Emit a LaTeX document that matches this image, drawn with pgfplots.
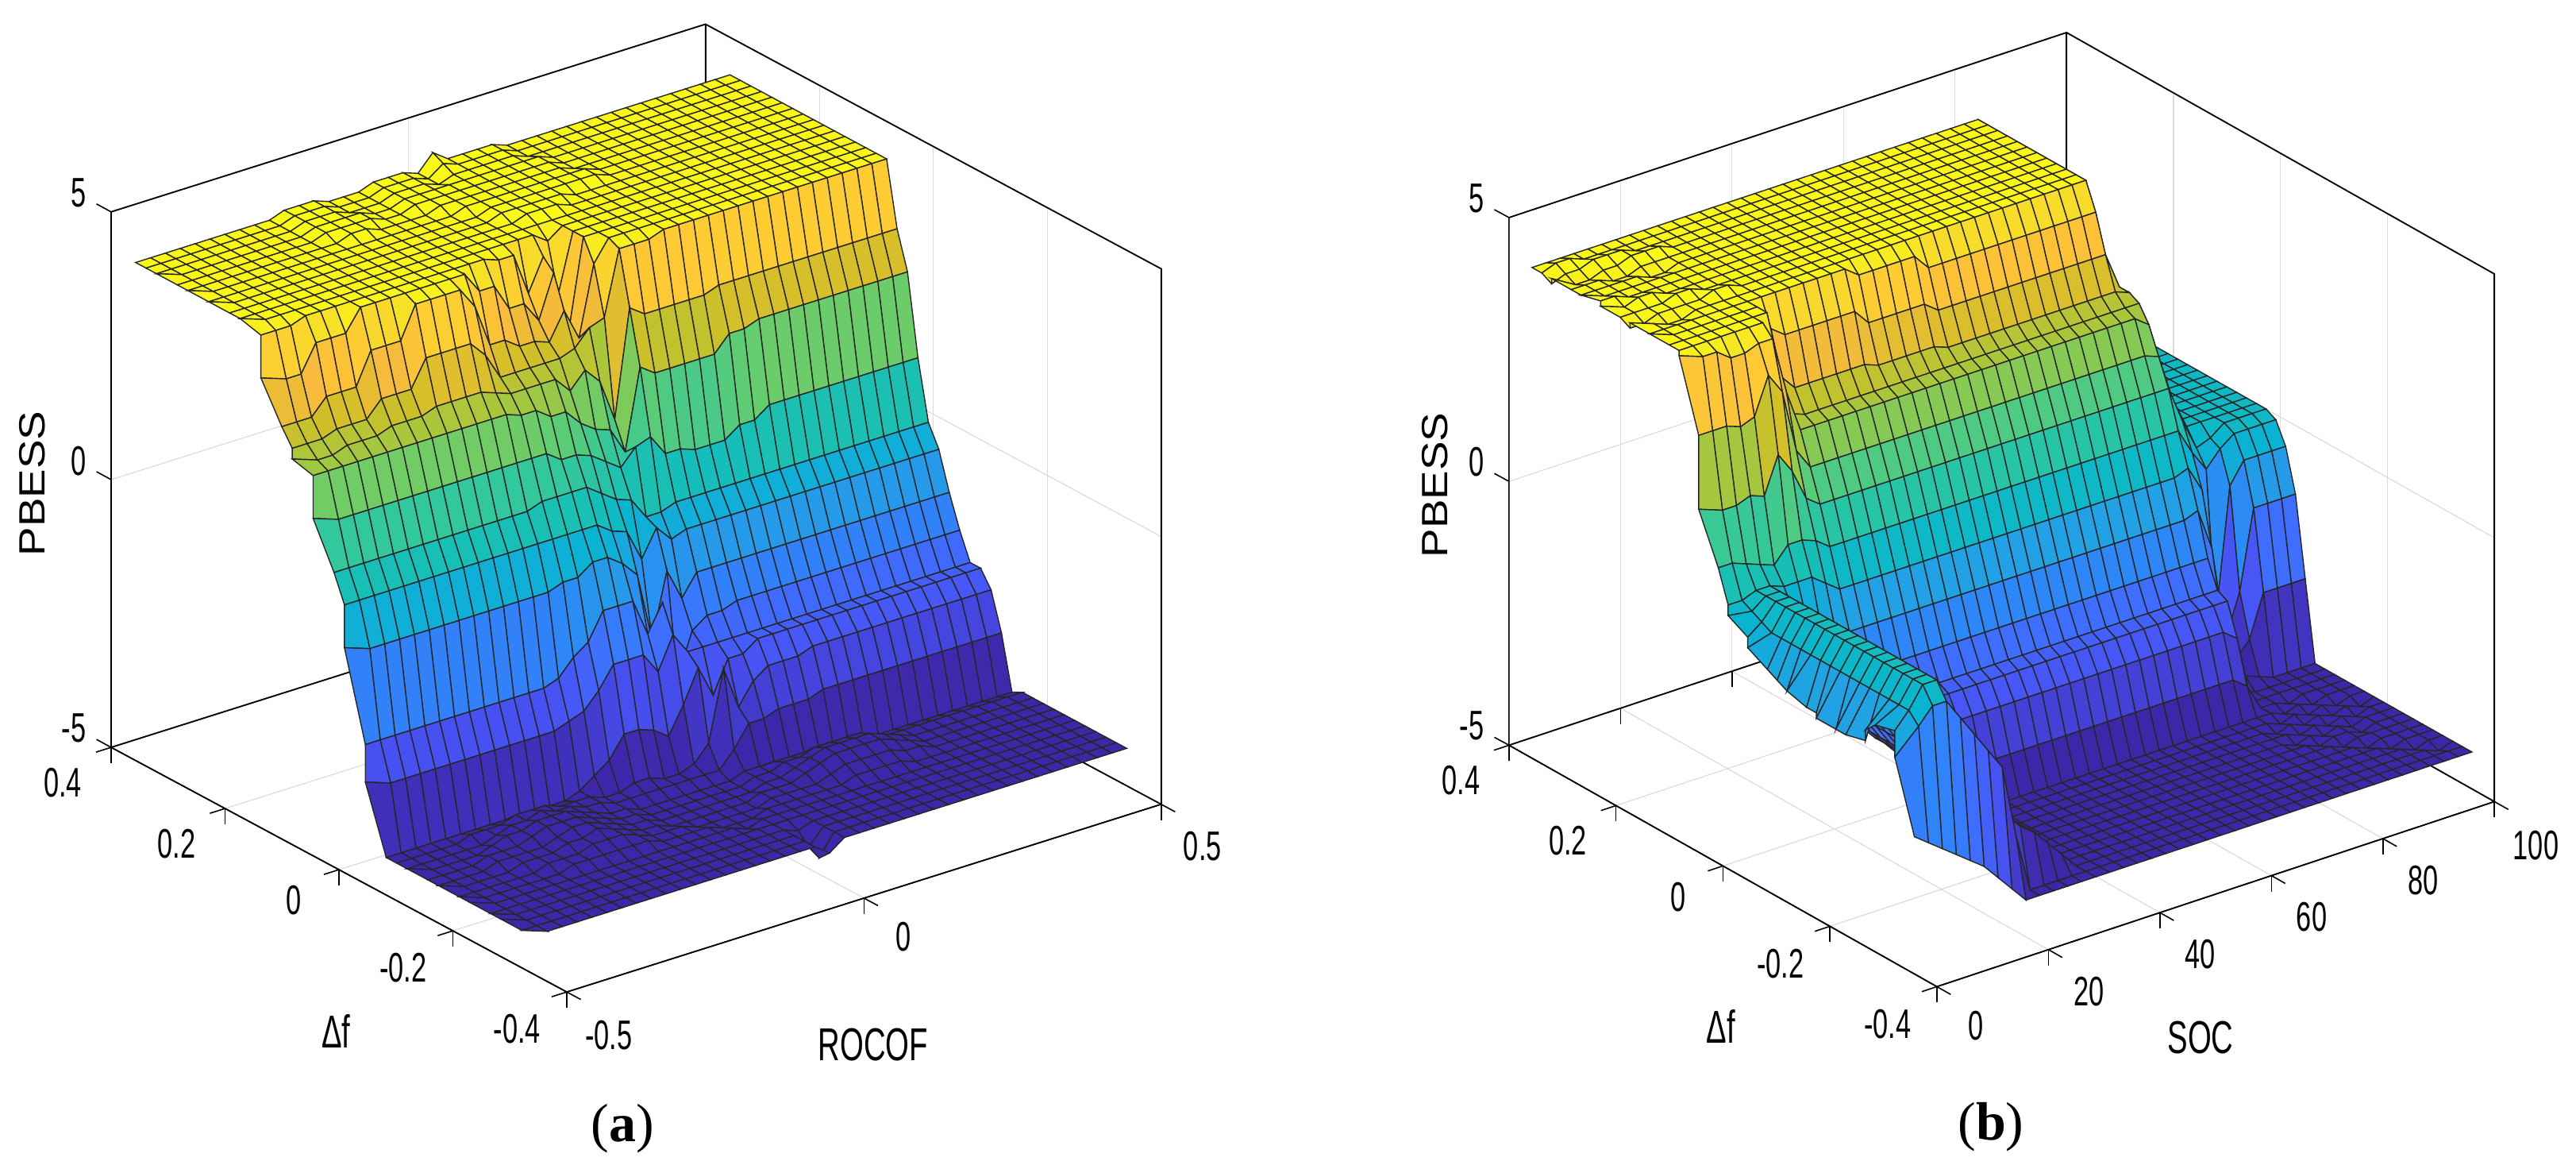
\documentclass[border=0pt]{standalone}
\usepackage{fontspec}
\usepackage{pgfplots}
\usepackage{pgfplotstable}
\pgfplotsset{compat=1.18}
\setmainfont{Liberation Sans}
\newfontfamily\lab[FakeStretch=0.66]{Liberation Sans}
\newfontfamily\capt{Liberation Serif}
\pgfplotsset{colormap={parshift}{
rgb(0pt)=(.2422,.1504,.6603) rgb(46pt)=(.2422,.1504,.6603) rgb(189pt)=(.2810,.3228,.9579)
rgb(268pt)=(.2440,.4358,.9988) rgb(332pt)=(.1786,.5289,.9682) rgb(411pt)=(.1380,.6276,.8973)
rgb(475pt)=(.0297,.7082,.8163) rgb(530pt)=(.0964,.7500,.7120) rgb(617pt)=(.2161,.7843,.5923)
rgb(681pt)=(.3909,.8029,.4354) rgb(744pt)=(.6174,.7876,.2612) rgb(806pt)=(.8203,.7498,.1535)
rgb(871pt)=(.9728,.7298,.2394) rgb(919pt)=(.9952,.7893,.2028) rgb(966pt)=(.9676,.8639,.1643)
rgb(1000pt)=(.9769,.9839,.0805)}}
\pgfplotsset{panel/.style={
 colormap name=parshift, point meta min=-4.35, point meta max=4.35,
 grid=major, grid style={black!14,line width=0.3pt},
 axis line style={line width=0.4pt,black}, tick style={black,line width=0.4pt},
 major tick length=5pt, tick align=outside, tick pos=left,
 ztick style={draw=none},
 tick label style={font=\lab\fontsize{13}{13}\selectfont},
 xticklabel style={xshift=3pt,yshift=-1.5pt},
 yticklabel style={xshift=-3.5pt},
 zticklabel style={yshift=3pt},
 /pgf/number format/assume math mode=true,
 zmin=-5,zmax=5,ztick={-5,0,5},ymin=-0.4,ymax=0.4,ytick={-0.4,-0.2,0,0.2,0.4},
 yticklabels={-0.4,-0.2,0,0.2,0.4}, zticklabels={-5,0,5},
 clip=false}}
\pgfplotstableread[row sep=\\]{
z\\
4.3\\4.3\\4.3\\ 4.3\\4.3\\4.3\\ 4.3\\4.3\\4.3\\ 4.3\\4.4\\4.4\\4.4\\ 4.3\\ 4.3\\4.3\\ 4.4\\4.4\\ 4.4\\ 4.3\\ 4.6\\ 4.4\\ 4.4\\ 4.4\\4.4\\ 4.3\\4.3\\4.3\\ 4.3\\4.3\\ 4.3\\4.3\\4.3\\4.3\\4.3\\4.3\\4.3\\4.3\\4.3\\4.3\\4.3\\
4.3\\4.3\\4.3\\ 4.3\\4.3\\4.3\\ 4.3\\4.3\\4.3\\ 4.3\\4.4\\4.4\\4.4\\ 4.3\\ 4.3\\4.3\\ 4.4\\4.4\\ 4.4\\ 4.3\\ 4.5\\ 4.4\\ 4.4\\ 4.4\\4.4\\ 4.3\\4.3\\4.3\\ 4.3\\4.3\\ 4.3\\4.3\\4.3\\4.3\\4.3\\4.3\\4.3\\4.3\\4.3\\4.3\\4.3\\
4.3\\4.3\\4.3\\ 4.3\\4.3\\4.3\\ 4.3\\4.3\\4.3\\ 4.3\\4.4\\4.4\\4.4\\ 4.3\\ 4.3\\4.3\\ 4.4\\4.4\\ 4.4\\ 4.3\\ 4.4\\ 4.4\\ 4.4\\ 4.4\\4.4\\ 4.3\\4.3\\4.3\\ 4.3\\4.3\\ 4.3\\4.3\\4.3\\4.3\\4.3\\4.3\\4.3\\4.3\\4.3\\4.3\\4.3\\
4.3\\4.3\\4.3\\ 4.3\\4.3\\4.3\\ 4.3\\4.3\\4.3\\ 4.3\\4.4\\4.4\\4.4\\ 4.4\\ 4.3\\4.3\\ 4.4\\4.4\\ 4.4\\ 4.4\\ 4.4\\ 4.4\\ 4.4\\ 4.4\\4.4\\ 4.4\\4.3\\4.3\\ 4.3\\4.3\\ 4.3\\4.3\\4.3\\4.3\\4.3\\4.3\\4.3\\4.3\\4.3\\4.3\\4.3\\
4.3\\4.3\\4.3\\ 4.3\\4.3\\4.3\\ 4.3\\4.3\\4.3\\ 4.3\\4.4\\4.4\\4.4\\ 4.4\\ 4.3\\4.3\\ 4.4\\4.4\\ 4.4\\ 4.4\\ 4.4\\ 4.4\\ 4.4\\ 4.4\\4.4\\ 4.4\\4.3\\4.3\\ 4.3\\4.3\\ 4.3\\4.3\\4.3\\4.3\\4.3\\4.3\\4.3\\4.3\\4.3\\4.3\\4.3\\
4.3\\4.3\\4.3\\ 4.3\\4.3\\4.3\\ 4.3\\4.3\\4.3\\ 4.3\\4.3\\4.4\\4.4\\ 4.3\\ 4.3\\4.3\\ 4.3\\4.4\\ 4.4\\ 4.4\\ 4.4\\ 4.4\\ 4.4\\ 4.4\\4.4\\ 4.4\\4.3\\4.3\\ 4.3\\4.3\\ 4.3\\4.3\\4.3\\4.3\\4.3\\4.3\\4.3\\4.3\\4.3\\4.3\\4.3\\
4.3\\4.3\\4.3\\ 4.3\\4.3\\4.3\\ 4.3\\4.3\\4.3\\ 4.3\\4.3\\4.3\\4.3\\ 4.3\\ 4.3\\4.3\\ 4.3\\4.3\\ 4.4\\ 4.4\\ 4.4\\ 4.4\\ 4.4\\ 4.4\\4.4\\ 4.4\\4.4\\4.3\\ 4.3\\4.3\\ 4.3\\4.3\\4.3\\4.3\\4.3\\4.3\\4.3\\4.3\\4.3\\4.3\\4.3\\
4.3\\4.3\\4.3\\ 4.3\\4.3\\4.3\\ 4.3\\4.3\\4.3\\ 4.3\\4.3\\4.3\\4.3\\ 4.3\\ 4.3\\4.3\\ 4.3\\4.3\\ 4.3\\ 4.4\\ 4.4\\ 4.4\\ 4.4\\ 4.4\\4.4\\ 4.4\\4.4\\4.3\\ 4.3\\4.3\\ 4.3\\4.3\\4.3\\4.3\\4.3\\4.3\\4.3\\4.3\\4.3\\4.3\\4.3\\
4.3\\4.3\\4.3\\ 4.3\\4.3\\4.3\\ 4.3\\4.3\\4.3\\ 4.3\\4.3\\4.3\\4.3\\ 4.3\\ 4.3\\4.3\\ 4.3\\4.3\\ 4.3\\ 4.4\\ 4.4\\ 4.4\\ 4.4\\ 4.4\\4.3\\ 4.3\\4.3\\4.3\\ 4.3\\4.3\\ 4.3\\4.3\\4.3\\4.3\\4.3\\4.3\\4.3\\4.3\\4.3\\4.3\\4.3\\
4.3\\4.3\\4.3\\ 4.3\\4.3\\4.3\\ 4.3\\4.3\\4.3\\ 4.3\\4.3\\4.3\\4.3\\ 4.3\\ 4.3\\4.3\\ 4.3\\4.3\\ 4.3\\ 4.3\\ 4.4\\ 4.4\\ 4.4\\ 4.3\\4.3\\ 4.3\\4.3\\4.3\\ 4.3\\4.3\\ 4.3\\4.3\\4.3\\4.3\\4.3\\4.3\\4.3\\4.3\\4.3\\4.3\\4.3\\
4.3\\4.3\\4.3\\ 4.3\\4.3\\4.3\\ 4.3\\4.3\\4.3\\ 4.3\\4.3\\4.3\\4.3\\ 4.3\\ 4.3\\4.3\\ 4.3\\4.3\\ 4.3\\ 4.3\\ 4.3\\ 4.3\\ 4.3\\ 4.3\\4.3\\ 4.3\\4.3\\4.3\\ 4.3\\4.3\\ 4.3\\4.3\\4.3\\4.3\\4.3\\4.3\\4.3\\4.3\\4.3\\4.3\\4.3\\
4.3\\4.3\\4.3\\ 4.3\\4.3\\4.3\\ 4.3\\4.3\\4.3\\ 4.3\\4.3\\4.3\\4.3\\ 4.3\\ 4.3\\4.3\\ 4.3\\4.3\\ 4.3\\ 4.3\\ 4.1\\ 4.3\\ 4.3\\ 4.3\\4.3\\ 4.3\\4.3\\4.3\\ 4.3\\4.3\\ 4.3\\4.3\\4.3\\4.3\\4.3\\4.3\\4.3\\4.3\\4.3\\4.3\\4.3\\
4.2\\4.2\\4.2\\ 4.3\\4.3\\4.3\\ 4.3\\4.3\\4.3\\ 4.3\\4.3\\4.3\\4.3\\ 4.3\\ 4.3\\4.3\\ 4.2\\4.2\\ 3.4\\ 4.0\\ 3.2\\ 4.3\\ 4.3\\ 4.3\\4.3\\ 4.3\\4.3\\4.3\\ 4.3\\4.3\\ 4.3\\4.3\\4.3\\4.3\\4.3\\4.3\\4.3\\4.3\\4.3\\4.3\\4.3\\
3.4\\3.4\\3.4\\ 3.9\\3.9\\3.9\\ 4.3\\4.3\\4.3\\ 4.3\\4.3\\4.3\\4.3\\ 4.3\\ 3.9\\3.9\\ 3.4\\3.4\\ 3.0\\ 3.8\\ 2.6\\ 4.3\\ 4.3\\ 4.3\\4.3\\ 4.3\\4.3\\4.3\\ 4.3\\4.3\\ 4.3\\4.3\\4.3\\4.3\\4.3\\4.3\\4.3\\4.3\\4.3\\4.3\\4.3\\
2.7\\2.7\\2.7\\ 3.0\\3.0\\3.0\\ 3.6\\3.6\\3.6\\ 4.2\\4.2\\4.2\\4.2\\ 3.8\\ 3.0\\3.0\\ 2.8\\2.8\\ 2.7\\ 3.2\\ 2.6\\ 3.9\\ 4.3\\ 4.3\\4.3\\ 4.3\\4.3\\4.3\\ 4.3\\4.3\\ 4.3\\4.3\\4.3\\4.3\\4.3\\4.3\\4.3\\4.3\\4.3\\4.3\\4.3\\
2.4\\2.4\\2.4\\ 2.5\\2.5\\2.5\\ 2.8\\2.8\\2.8\\ 3.3\\3.3\\3.3\\3.3\\ 3.0\\ 2.5\\2.5\\ 2.5\\2.5\\ 2.5\\ 2.6\\ 2.9\\ 3.0\\ 4.2\\ 4.2\\4.2\\ 4.3\\4.3\\4.3\\ 4.3\\4.3\\ 4.3\\4.3\\4.3\\4.3\\4.3\\4.3\\4.3\\4.3\\4.3\\4.3\\4.3\\
2.2\\2.2\\2.2\\ 2.3\\2.3\\2.3\\ 2.4\\2.4\\2.4\\ 2.5\\2.5\\2.5\\2.5\\ 2.4\\ 2.3\\2.3\\ 2.3\\2.3\\ 2.0\\ 2.3\\ 2.0\\ 1.2\\ 3.2\\ 3.0\\3.0\\ 3.0\\3.0\\3.0\\ 3.1\\3.1\\ 3.1\\3.1\\3.1\\3.1\\3.1\\3.1\\3.1\\3.1\\3.1\\3.1\\3.1\\
2.1\\2.1\\2.1\\ 2.1\\2.1\\2.1\\ 2.1\\2.1\\2.1\\ 2.1\\2.1\\2.1\\2.1\\ 2.1\\ 2.0\\2.0\\ 1.8\\1.8\\ 1.5\\ 1.3\\ 1.2\\ 0.7\\ 2.2\\ 2.0\\2.0\\ 2.0\\2.0\\2.0\\ 2.3\\2.3\\ 2.4\\2.4\\2.4\\2.4\\2.4\\2.4\\2.4\\2.4\\2.4\\2.4\\2.4\\
1.3\\1.3\\1.3\\ 1.3\\1.3\\1.3\\ 1.3\\1.3\\1.3\\ 1.3\\1.3\\1.3\\1.3\\ 1.3\\ 1.3\\1.3\\ 1.1\\1.1\\ 1.0\\ 0.8\\ 0.6\\ 0.9\\ 1.0\\ 0.6\\0.6\\ 0.5\\0.5\\0.5\\ 0.7\\0.7\\ 0.9\\0.9\\0.9\\0.9\\0.9\\0.9\\0.9\\0.9\\0.9\\0.9\\0.9\\
0.5\\0.5\\0.5\\ 0.5\\0.5\\0.5\\ 0.5\\0.5\\0.5\\ 0.5\\0.5\\0.5\\0.5\\ 0.5\\ 0.6\\0.6\\ 0.6\\0.6\\ 0.4\\ 0.2\\ 0.1\\ -0.3\\ -0.3\\ -0.2\\-0.2\\ -0.2\\-0.2\\-0.2\\ -0.2\\-0.2\\ -0.2\\-0.2\\-0.2\\-0.2\\-0.2\\-0.2\\-0.2\\-0.2\\-0.2\\-0.2\\-0.2\\
0\\0\\0\\ 0\\0\\0\\ 0\\0\\0\\ 0\\0\\0\\0\\ 0\\ 0\\0\\ 0\\0\\ -0.2\\ -0.3\\ -0.9\\ -0.4\\ -0.7\\ -0.6\\-0.6\\ -0.6\\-0.6\\-0.6\\ -0.6\\-0.6\\ -0.6\\-0.6\\-0.6\\-0.6\\-0.6\\-0.6\\-0.6\\-0.6\\-0.6\\-0.6\\-0.6\\
-0.8\\-0.8\\-0.8\\ -0.8\\-0.8\\-0.8\\ -0.8\\-0.8\\-0.8\\ -0.8\\-0.8\\-0.8\\-0.8\\ -0.8\\ -0.7\\-0.7\\ -0.5\\-0.5\\ -0.7\\ -1.0\\ -2.3\\ -1.1\\ -1.7\\ -1.3\\-1.3\\ -1.3\\-1.3\\-1.3\\ -1.3\\-1.3\\ -1.3\\-1.3\\-1.3\\-1.3\\-1.3\\-1.3\\-1.3\\-1.3\\-1.3\\-1.3\\-1.3\\
-2.4\\-2.4\\-2.4\\ -2.4\\-2.4\\-2.4\\ -2.4\\-2.4\\-2.4\\ -2.4\\-2.4\\-2.4\\-2.4\\ -2.3\\ -2.0\\-1.8\\ -1.3\\-1.3\\ -1.3\\ -2.0\\ -1.5\\ -3.0\\ -2.2\\ -2.0\\-2.0\\ -1.9\\-1.9\\-1.9\\ -1.9\\-1.9\\ -1.9\\-1.9\\-1.9\\-1.9\\-1.9\\-1.9\\-1.9\\-1.9\\-1.9\\-1.9\\-1.9\\
-3.1\\-3.1\\-3.1\\ -3.1\\-3.1\\-3.1\\ -3.1\\-3.1\\-3.1\\ -3.1\\-3.1\\-3.1\\-3.1\\ -3.0\\ -2.9\\-2.6\\ -2.2\\-2.2\\ -2.2\\ -2.6\\ -2.0\\ -2.4\\ -2.4\\ -2.4\\-2.4\\ -2.4\\-2.4\\-2.4\\ -2.4\\-2.4\\ -2.4\\-2.4\\-2.4\\-2.4\\-2.4\\-2.4\\-2.4\\-2.4\\-2.4\\-2.4\\-2.4\\
-4.3\\-4.3\\-4.3\\ -4.3\\-4.3\\-4.3\\ -4.3\\-4.3\\-4.3\\ -4.3\\-4.3\\-4.3\\-4.3\\ -4.2\\ -4.0\\-3.8\\ -3.4\\-3.4\\ -3.5\\ -3.7\\ -3.2\\ -2.6\\ -3.2\\ -2.6\\-2.6\\ -2.4\\-2.4\\-2.4\\ -2.4\\-2.4\\ -2.4\\-2.4\\-2.4\\-2.4\\-2.4\\-2.4\\-2.4\\-2.4\\-2.4\\-2.4\\-2.4\\
-4.3\\-4.3\\-4.3\\ -4.3\\-4.3\\-4.2\\ -4.2\\-4.2\\-4.1\\ -4.1\\-4.1\\-4.2\\-4.2\\ -4.2\\ -4.3\\-4.3\\ -4.2\\-4.2\\ -4.3\\ -4.3\\ -4.2\\ -3.9\\ -2.6\\ -3.4\\-3.0\\ -2.8\\-2.8\\-2.8\\ -2.7\\-2.7\\ -2.7\\-2.7\\-2.7\\-2.7\\-2.7\\-2.7\\-2.7\\-2.7\\-2.7\\-2.7\\-2.7\\
-4.3\\-4.3\\-4.3\\ -4.3\\-4.3\\-4.3\\ -4.2\\-4.1\\-4.1\\ -4.0\\-4.1\\-4.1\\-4.2\\ -4.2\\ -4.3\\-4.3\\ -4.3\\-4.3\\ -4.3\\ -4.3\\ -4.3\\ -4.3\\ -4.0\\ -3.6\\-3.6\\ -3.5\\-3.5\\-3.5\\ -3.4\\-3.4\\ -3.4\\-3.4\\-3.4\\-3.4\\-3.4\\-3.4\\-3.4\\-3.4\\-3.4\\-3.4\\-3.4\\
-4.3\\-4.3\\-4.3\\ -4.3\\-4.3\\-4.2\\ -4.1\\-4.1\\-4.0\\ -4.0\\-4.0\\-4.1\\-4.2\\ -4.3\\ -4.3\\-4.4\\ -4.4\\-4.4\\ -4.4\\ -4.4\\ -4.4\\ -4.4\\ -4.3\\ -4.3\\-4.3\\ -4.3\\-4.3\\-4.3\\ -4.4\\-4.4\\ -4.4\\-4.4\\-4.4\\-4.4\\-4.4\\-4.4\\-4.4\\-4.4\\-4.4\\-4.4\\-4.4\\
-4.3\\-4.3\\-4.3\\ -4.3\\-4.2\\-4.2\\ -4.2\\-4.1\\-4.0\\ -4.0\\-4.0\\-4.1\\-4.2\\ -4.3\\ -4.3\\-4.4\\ -4.4\\-4.4\\ -4.4\\ -4.4\\ -4.4\\ -4.4\\ -4.3\\ -4.3\\-4.2\\ -4.2\\-4.1\\-4.1\\ -4.1\\-4.1\\ -4.2\\-4.3\\-4.3\\-4.3\\-4.3\\-4.3\\-4.3\\-4.3\\-4.3\\-4.3\\-4.3\\
-4.3\\-4.3\\-4.3\\ -4.3\\-4.2\\-4.2\\ -4.2\\-4.2\\-4.1\\ -4.0\\-4.0\\-4.1\\-4.2\\ -4.3\\ -4.3\\-4.4\\ -4.4\\-4.4\\ -4.4\\ -4.4\\ -4.4\\ -4.4\\ -4.3\\ -4.3\\-4.2\\ -4.1\\-4.0\\-4.0\\ -4.0\\-4.0\\ -4.1\\-4.2\\-4.3\\-4.3\\-4.3\\-4.3\\-4.3\\-4.3\\-4.3\\-4.3\\-4.3\\
-4.3\\-4.3\\-4.3\\ -4.3\\-4.3\\-4.2\\ -4.2\\-4.2\\-4.1\\ -4.1\\-4.0\\-4.1\\-4.2\\ -4.3\\ -4.3\\-4.4\\ -4.4\\-4.4\\ -4.4\\ -4.4\\ -4.4\\ -4.3\\ -4.3\\ -4.3\\-4.2\\ -4.1\\-4.0\\-4.0\\ -4.0\\-4.0\\ -4.1\\-4.2\\-4.3\\-4.3\\-4.3\\-4.3\\-4.3\\-4.3\\-4.3\\-4.3\\-4.3\\
-4.3\\-4.3\\-4.3\\ -4.3\\-4.3\\-4.3\\ -4.2\\-4.2\\-4.2\\ -4.1\\-4.1\\-4.1\\-4.2\\ -4.3\\ -4.3\\-4.3\\ -4.4\\-4.4\\ -4.4\\ -4.4\\ -4.4\\ -4.3\\ -4.3\\ -4.3\\-4.3\\ -4.2\\-4.1\\-4.1\\ -4.1\\-4.1\\ -4.2\\-4.2\\-4.3\\-4.3\\-4.3\\-4.3\\-4.3\\-4.3\\-4.3\\-4.3\\-4.3\\
-4.3\\-4.3\\-4.3\\ -4.3\\-4.3\\-4.3\\ -4.3\\-4.2\\-4.2\\ -4.2\\-4.2\\-4.2\\-4.2\\ -4.3\\ -4.3\\-4.3\\ -4.3\\-4.4\\ -4.4\\ -4.4\\ -4.3\\ -4.3\\ -4.3\\ -4.3\\-4.3\\ -4.3\\-4.2\\-4.2\\ -4.2\\-4.2\\ -4.3\\-4.3\\-4.3\\-4.3\\-4.3\\-4.3\\-4.3\\-4.3\\-4.3\\-4.3\\-4.3\\
-4.3\\-4.3\\-4.3\\ -4.3\\-4.3\\-4.3\\ -4.3\\-4.3\\-4.3\\ -4.3\\-4.3\\-4.3\\-4.3\\ -4.3\\ -4.3\\-4.3\\ -4.3\\-4.3\\ -4.4\\ -4.3\\ -4.3\\ -4.3\\ -4.3\\ -4.3\\-4.3\\ -4.3\\-4.3\\-4.3\\ -4.3\\-4.3\\ -4.3\\-4.3\\-4.3\\-4.3\\-4.3\\-4.3\\-4.3\\-4.3\\-4.3\\-4.3\\-4.3\\
-4.3\\-4.3\\-4.3\\ -4.3\\-4.3\\-4.3\\ -4.3\\-4.3\\-4.3\\ -4.3\\-4.3\\-4.3\\-4.3\\ -4.3\\ -4.3\\-4.3\\ -4.3\\-4.3\\ -4.3\\ -4.3\\ -4.3\\ -4.3\\ -4.3\\ -4.3\\-4.3\\ -4.3\\-4.3\\-4.3\\ -4.3\\-4.3\\ -4.3\\-4.3\\-4.3\\-4.3\\-4.3\\-4.3\\-4.3\\-4.3\\-4.3\\-4.3\\-4.3\\
-4.3\\-4.3\\-4.3\\ -4.3\\-4.3\\-4.3\\ -4.3\\-4.3\\-4.3\\ -4.3\\-4.3\\-4.3\\-4.3\\ -4.3\\ -4.3\\-4.3\\ -4.3\\-4.3\\ -4.3\\ -4.3\\ -4.4\\ -4.3\\ -4.3\\ -4.3\\-4.3\\ -4.3\\-4.3\\-4.3\\ -4.3\\-4.3\\ -4.3\\-4.3\\-4.3\\-4.3\\-4.3\\-4.3\\-4.3\\-4.3\\-4.3\\-4.3\\-4.3\\
-4.3\\-4.3\\-4.3\\ -4.3\\-4.3\\-4.3\\ -4.3\\-4.3\\-4.3\\ -4.3\\-4.3\\-4.3\\-4.3\\ -4.3\\ -4.3\\-4.3\\ -4.3\\-4.3\\ -4.3\\ -4.3\\ -4.6\\ -4.3\\ -4.3\\ -4.3\\-4.3\\ -4.3\\-4.3\\-4.3\\ -4.3\\-4.3\\ -4.3\\-4.3\\-4.3\\-4.3\\-4.3\\-4.3\\-4.3\\-4.3\\-4.3\\-4.3\\-4.3\\
-4.3\\-4.3\\-4.3\\ -4.3\\-4.3\\-4.3\\ -4.3\\-4.3\\-4.3\\ -4.3\\-4.3\\-4.3\\-4.3\\ -4.3\\ -4.3\\-4.3\\ -4.3\\-4.3\\ -4.3\\ -4.3\\ -4.7\\ -4.3\\ -4.3\\ -4.3\\-4.3\\ -4.3\\-4.3\\-4.3\\ -4.3\\-4.3\\ -4.3\\-4.3\\-4.3\\-4.3\\-4.3\\-4.3\\-4.3\\-4.3\\-4.3\\-4.3\\-4.3\\
-4.3\\-4.3\\-4.3\\ -4.3\\-4.3\\-4.3\\ -4.3\\-4.3\\-4.3\\ -4.3\\-4.3\\-4.3\\-4.3\\ -4.3\\ -4.3\\-4.3\\ -4.3\\-4.3\\ -4.3\\ -4.3\\ -4.5\\ -4.3\\ -4.3\\ -4.3\\-4.3\\ -4.3\\-4.3\\-4.3\\ -4.3\\-4.3\\ -4.3\\-4.3\\-4.3\\-4.3\\-4.3\\-4.3\\-4.3\\-4.3\\-4.3\\-4.3\\-4.3\\
}\tabA
\pgfplotstableread[row sep=\\]{
z\\
4.3\\4.3\\4.3\\4.3\\4.3\\4.3\\4.3\\4.3\\4.3\\ 4.3\\4.3\\4.3\\4.3\\4.3\\4.3\\4.3\\4.3\\4.3\\4.3\\4.3\\ 4.3\\4.3\\4.3\\4.3\\4.3\\4.3\\4.3\\4.3\\4.3\\4.3\\4.3\\4.3\\ 4.3\\ 2.4\\1.2\\0\\0\\ 0\\0\\0\\0\\
4.3\\4.4\\4.4\\4.3\\4.3\\4.3\\4.3\\4.3\\4.3\\ 4.3\\4.3\\4.3\\4.3\\4.3\\4.3\\4.3\\4.3\\4.3\\4.3\\4.3\\ 4.3\\4.3\\4.3\\4.3\\4.3\\4.3\\4.3\\4.3\\4.3\\4.3\\4.3\\4.3\\ 4.3\\ 2.4\\1.2\\0\\0\\ 0\\0\\0\\0\\
4.2\\4.3\\4.3\\4.4\\4.4\\4.4\\4.3\\4.3\\4.3\\ 4.3\\4.3\\4.3\\4.3\\4.3\\4.3\\4.3\\4.3\\4.3\\4.3\\4.3\\ 4.3\\4.3\\4.3\\4.3\\4.3\\4.3\\4.3\\4.3\\4.3\\4.3\\4.3\\4.3\\ 4.3\\ 2.4\\1.2\\0\\0\\ 0\\0\\0\\0\\
4.3\\4.2\\4.2\\4.3\\4.3\\4.4\\4.4\\4.4\\4.3\\ 4.3\\4.3\\4.3\\4.3\\4.3\\4.3\\4.3\\4.3\\4.3\\4.3\\4.3\\ 4.3\\4.3\\4.3\\4.3\\4.3\\4.3\\4.3\\4.3\\4.3\\4.3\\4.3\\4.3\\ 4.3\\ 2.4\\1.2\\0\\0\\ 0\\0\\0\\0\\
4.3\\4.3\\4.3\\4.2\\4.2\\4.3\\4.3\\4.3\\4.3\\ 4.3\\4.3\\4.3\\4.3\\4.3\\4.3\\4.3\\4.3\\4.3\\4.3\\4.3\\ 4.3\\4.3\\4.3\\4.3\\4.3\\4.3\\4.3\\4.3\\4.3\\4.3\\4.3\\4.3\\ 4.3\\ 2.4\\1.2\\0\\0\\ 0\\0\\0\\0\\
4.3\\4.3\\4.3\\4.3\\4.3\\4.2\\4.2\\4.3\\4.3\\ 4.3\\4.3\\4.3\\4.3\\4.3\\4.3\\4.3\\4.3\\4.3\\4.3\\4.3\\ 4.3\\4.3\\4.3\\4.3\\4.3\\4.3\\4.3\\4.3\\4.3\\4.3\\4.3\\4.3\\ 4.3\\ 2.4\\1.2\\0\\0\\ 0\\0\\0\\0\\
4.3\\4.3\\4.3\\4.3\\4.3\\4.3\\4.3\\4.3\\4.3\\ 4.3\\4.3\\4.3\\4.3\\4.3\\4.3\\4.3\\4.3\\4.3\\4.3\\4.3\\ 4.3\\4.3\\4.3\\4.3\\4.3\\4.3\\4.3\\4.3\\4.3\\4.3\\4.3\\4.3\\ 4.3\\ 2.4\\1.2\\0\\0\\ 0\\0\\0\\0\\
4.4\\4.4\\4.3\\4.3\\4.3\\4.3\\4.3\\4.3\\4.3\\ 4.3\\4.3\\4.3\\4.3\\4.3\\4.3\\4.3\\4.3\\4.3\\4.3\\4.3\\ 4.3\\4.3\\4.3\\4.3\\4.3\\4.3\\4.3\\4.3\\4.3\\4.3\\4.3\\4.3\\ 4.3\\ 2.4\\1.2\\0\\0\\ 0\\0\\0\\0\\
4.3\\4.3\\4.4\\4.4\\4.3\\4.3\\4.3\\4.3\\4.3\\ 4.3\\4.3\\4.3\\4.3\\4.3\\4.3\\4.3\\4.3\\4.3\\4.3\\4.3\\ 4.3\\4.3\\4.3\\4.3\\4.3\\4.3\\4.3\\4.3\\4.3\\4.3\\4.3\\4.3\\ 4.3\\ 2.4\\1.2\\0\\0\\ 0\\0\\0\\0\\
4.3\\4.3\\4.3\\4.3\\4.4\\4.4\\4.3\\4.3\\4.3\\ 4.3\\4.3\\4.3\\4.3\\4.3\\4.3\\4.3\\4.3\\4.3\\4.3\\4.3\\ 4.3\\4.3\\4.3\\4.3\\4.3\\4.3\\4.3\\4.3\\4.3\\4.3\\4.3\\4.3\\ 4.3\\ 2.4\\1.2\\0\\0\\ 0\\0\\0\\0\\
4.2\\4.2\\4.3\\4.3\\4.3\\4.3\\4.4\\4.4\\4.3\\ 4.3\\4.3\\4.3\\4.3\\4.3\\4.3\\4.3\\4.3\\4.3\\4.3\\4.3\\ 4.3\\4.3\\4.3\\4.3\\4.3\\4.3\\4.3\\4.3\\4.3\\4.3\\4.3\\4.3\\ 4.3\\ 2.4\\1.2\\0\\0\\ 0\\0\\0\\0\\
4.3\\4.3\\4.2\\4.2\\4.3\\4.3\\4.3\\4.3\\4.3\\ 4.3\\4.3\\4.3\\4.3\\4.3\\4.3\\4.3\\4.3\\4.3\\4.3\\4.3\\ 4.3\\4.3\\4.3\\4.3\\4.3\\4.3\\4.3\\4.3\\4.3\\4.3\\4.3\\4.3\\ 4.3\\ 2.4\\1.2\\0\\0\\ 0\\0\\0\\0\\
4.3\\4.3\\4.3\\4.3\\4.3\\4.3\\4.3\\4.3\\4.3\\ 4.3\\4.3\\4.3\\4.3\\4.3\\4.3\\4.1\\4.1\\4.1\\4.1\\4.1\\ 3.8\\3.8\\3.8\\3.8\\3.8\\3.8\\3.8\\3.8\\3.8\\3.8\\3.8\\3.8\\ 3.8\\ 2.4\\1.2\\0\\0\\ 0\\0\\0\\0\\
4.3\\4.3\\4.3\\4.3\\4.3\\4.3\\4.3\\4.3\\3.8\\ 3.6\\3.6\\3.6\\3.6\\3.6\\3.6\\3.3\\3.3\\3.3\\3.3\\3.3\\ 3.1\\3.1\\3.1\\3.1\\3.1\\3.1\\3.1\\3.1\\3.1\\3.1\\3.1\\3.1\\ 3.1\\ 2.4\\1.2\\0\\0\\ 0\\0\\0\\0\\
4.3\\4.3\\4.3\\4.3\\4.3\\4.3\\4.3\\4.3\\3.0\\ 2.7\\2.7\\2.7\\2.7\\2.7\\2.7\\2.6\\2.6\\2.6\\2.6\\2.6\\ 2.5\\2.5\\2.5\\2.5\\2.5\\2.5\\2.5\\2.5\\2.5\\2.5\\2.5\\2.5\\ 2.5\\ 2.4\\1.2\\0\\0\\ 0\\0\\0\\0\\
4.3\\4.3\\4.3\\4.3\\4.3\\4.3\\4.3\\3.6\\2.4\\ 2.3\\2.3\\2.3\\2.3\\2.3\\2.3\\2.3\\2.3\\2.3\\2.3\\2.3\\ 2.3\\2.3\\2.3\\2.3\\2.3\\2.3\\2.3\\2.3\\2.3\\2.3\\2.3\\2.3\\ 2.3\\ 2.3\\1.1\\0\\0\\ 0\\0\\0\\0\\
4.2\\4.2\\4.2\\4.0\\4.0\\4.1\\4.1\\3.0\\2.2\\ 2.2\\2.2\\2.2\\2.2\\2.2\\2.2\\2.2\\2.2\\2.2\\2.2\\2.2\\ 2.2\\2.2\\2.2\\2.2\\2.2\\2.2\\2.2\\2.2\\2.2\\2.2\\2.2\\2.2\\ 2.2\\ 2.0\\0.9\\0\\0\\ 0\\0\\0\\0\\
2.9\\2.9\\2.9\\2.8\\2.9\\3.6\\3.2\\2.0\\1.6\\ 1.6\\1.6\\1.6\\1.6\\1.6\\1.6\\1.6\\1.6\\1.6\\1.6\\1.6\\ 1.6\\1.6\\1.6\\1.6\\1.6\\1.6\\1.6\\1.6\\1.6\\1.6\\1.6\\1.6\\ 1.6\\ 1.5\\0.6\\0\\0\\ 0\\0\\0\\0\\
1.5\\1.5\\1.5\\1.6\\1.5\\2.2\\1.8\\1.2\\1.0\\ 1.0\\1.0\\1.0\\1.0\\1.0\\1.0\\1.0\\1.0\\1.0\\1.0\\1.0\\ 1.0\\1.0\\1.0\\1.0\\1.0\\1.0\\1.0\\1.0\\1.0\\1.0\\1.0\\1.0\\ 1.0\\ 1.0\\0.3\\-0.3\\-0.2\\ 0\\0\\0\\0\\
0.6\\0.6\\0.5\\0.4\\0.3\\0.6\\0.6\\0.5\\0.3\\ 0.3\\0.3\\0.3\\0.3\\0.3\\0.3\\0.3\\0.3\\0.3\\0.3\\0.3\\ 0.3\\0.3\\0.3\\0.3\\0.3\\0.3\\0.3\\0.3\\0.3\\0.3\\0.3\\0.3\\ 0.3\\ 0.3\\-0.2\\-0.6\\-0.3\\ -0.1\\-0.1\\-0.1\\-0.1\\
0\\0\\0.1\\0.1\\0\\0\\0\\-0.2\\-0.4\\ -0.4\\-0.4\\-0.4\\-0.4\\-0.4\\-0.4\\-0.4\\-0.4\\-0.4\\-0.4\\-0.4\\ -0.4\\-0.4\\-0.4\\-0.4\\-0.4\\-0.4\\-0.4\\-0.4\\-0.4\\-0.4\\-0.4\\-0.4\\ -0.4\\ -0.3\\-0.8\\-3.3\\-0.9\\ -0.5\\-0.5\\-0.5\\-0.5\\
-0.2\\-0.1\\0.1\\0.1\\-0.4\\-0.7\\-0.9\\-1.0\\-1.1\\ -1.1\\-1.1\\-1.1\\-1.1\\-1.1\\-1.1\\-1.1\\-1.1\\-1.1\\-1.1\\-1.1\\ -1.1\\-1.1\\-1.1\\-1.1\\-1.1\\-1.1\\-1.1\\-1.1\\-1.1\\-1.1\\-1.1\\-1.1\\ -1.1\\ -1.0\\-1.8\\-3.6\\-2.8\\ -1.3\\-1.3\\-1.3\\-1.3\\
-0.4\\-0.2\\0.1\\0.1\\-1.0\\-1.5\\-1.7\\-1.8\\-1.8\\ -1.8\\-1.8\\-1.8\\-1.8\\-1.8\\-1.8\\-1.8\\-1.8\\-1.8\\-1.8\\-1.8\\ -1.8\\-1.8\\-1.8\\-1.8\\-1.8\\-1.8\\-1.8\\-1.8\\-1.8\\-1.8\\-1.8\\-1.8\\ -1.8\\ -1.8\\-3.0\\-3.9\\-3.6\\ -2.8\\-2.8\\-2.8\\-2.8\\
-0.6\\-0.3\\0.1\\0.1\\-1.4\\-1.9\\-2.3\\-2.3\\-2.3\\ -2.3\\-2.3\\-2.3\\-2.3\\-2.3\\-2.3\\-2.3\\-2.3\\-2.3\\-2.3\\-2.3\\ -2.3\\-2.3\\-2.3\\-2.3\\-2.3\\-2.3\\-2.3\\-2.3\\-2.3\\-2.3\\-2.3\\-2.3\\ -2.3\\ -2.3\\-3.8\\-4.1\\-4.2\\ -4.3\\-4.3\\-4.3\\-4.3\\
-0.8\\-0.3\\0.1\\0.1\\-1.5\\-1.9\\-2.3\\-2.4\\-2.4\\ -2.4\\-2.4\\-2.4\\-2.4\\-2.4\\-2.4\\-2.4\\-2.4\\-2.4\\-2.4\\-2.4\\ -2.4\\-2.4\\-2.4\\-2.4\\-2.4\\-2.4\\-2.4\\-2.4\\-2.4\\-2.4\\-2.4\\-2.4\\ -2.4\\ -2.4\\-4.2\\-4.3\\-4.3\\ -4.3\\-4.3\\-4.3\\-4.3\\
-0.9\\-0.3\\0.1\\0.1\\-1.5\\-1.9\\-2.3\\-2.6\\-2.8\\ -2.8\\-2.8\\-2.8\\-2.8\\-2.8\\-2.8\\-2.8\\-2.8\\-2.8\\-2.8\\-2.8\\ -2.8\\-2.8\\-2.8\\-2.8\\-2.8\\-2.8\\-2.8\\-2.8\\-2.8\\-2.8\\-2.8\\-2.8\\ -2.8\\ -3.0\\-4.3\\-4.3\\-4.3\\ -4.3\\-4.3\\-4.3\\-4.3\\
-1.0\\-0.3\\0.1\\0.1\\-1.5\\-1.9\\-2.3\\-2.6\\-2.9\\ -3.2\\-3.4\\-3.6\\-3.6\\-3.6\\-3.6\\-3.6\\-3.6\\-3.6\\-3.6\\-3.6\\ -3.6\\-3.6\\-3.6\\-3.6\\-3.6\\-3.6\\-3.6\\-3.6\\-3.6\\-3.6\\-3.6\\-3.6\\ -3.6\\ -3.8\\-4.3\\-4.3\\-4.4\\ -4.3\\-4.3\\-4.3\\-4.3\\
-1.0\\-0.3\\0.1\\0.1\\-1.5\\-1.9\\-2.3\\-2.6\\-2.9\\ -3.2\\-3.4\\-3.7\\-4.0\\-4.3\\-4.3\\-4.3\\-4.3\\-4.3\\-4.3\\-4.3\\ -4.3\\-4.3\\-4.3\\-4.3\\-4.3\\-4.3\\-4.3\\-4.3\\-4.3\\-4.3\\-4.3\\-4.3\\ -4.3\\ -4.3\\-4.3\\-4.4\\-4.3\\ -4.4\\-4.3\\-4.3\\-4.3\\
-1.1\\-0.3\\0.1\\0.1\\-1.5\\-1.9\\-2.3\\-2.6\\-2.9\\ -3.2\\-3.4\\-3.7\\-4.0\\-4.3\\-4.3\\-4.3\\-4.3\\-4.3\\-4.3\\-4.3\\ -4.3\\-4.3\\-4.3\\-4.3\\-4.3\\-4.3\\-4.3\\-4.3\\-4.3\\-4.3\\-4.3\\-4.3\\ -4.3\\ -4.3\\-4.4\\-4.3\\-4.4\\ -4.3\\-4.4\\-4.3\\-4.3\\
-1.1\\-0.3\\0.1\\0.1\\-1.5\\-1.9\\-2.3\\-2.6\\-2.9\\ -3.2\\-3.4\\-3.7\\-4.0\\-4.3\\-4.3\\-4.3\\-4.3\\-4.3\\-4.3\\-4.3\\ -4.3\\-4.3\\-4.3\\-4.3\\-4.3\\-4.3\\-4.3\\-4.3\\-4.3\\-4.3\\-4.3\\-4.3\\ -4.3\\ -4.4\\-4.3\\-4.4\\-4.3\\ -4.4\\-4.3\\-4.4\\-4.3\\
-1.2\\-0.3\\0.1\\0.1\\-1.5\\-1.9\\-2.3\\-2.6\\-2.9\\ -3.2\\-3.4\\-3.7\\-4.0\\-4.3\\-4.3\\-4.3\\-4.3\\-4.3\\-4.3\\-4.3\\ -4.3\\-4.3\\-4.3\\-4.3\\-4.3\\-4.3\\-4.3\\-4.3\\-4.3\\-4.3\\-4.3\\-4.3\\ -4.3\\ -4.3\\-4.4\\-4.3\\-4.4\\ -4.3\\-4.4\\-4.3\\-4.3\\
-1.2\\-0.3\\0.1\\0.1\\-1.5\\-1.9\\-2.3\\-2.6\\-2.9\\ -3.2\\-3.4\\-3.7\\-4.0\\-4.3\\-4.3\\-4.3\\-4.3\\-4.3\\-4.3\\-4.3\\ -4.3\\-4.3\\-4.3\\-4.3\\-4.3\\-4.3\\-4.3\\-4.3\\-4.3\\-4.3\\-4.3\\-4.3\\ -4.3\\ -4.4\\-4.3\\-4.4\\-4.3\\ -4.4\\-4.3\\-4.3\\-4.3\\
-1.2\\-0.3\\0.1\\0.1\\-1.5\\-1.9\\-2.3\\-2.6\\-2.9\\ -3.2\\-3.4\\-3.7\\-4.0\\-4.3\\-4.3\\-4.3\\-4.3\\-4.3\\-4.3\\-4.3\\ -4.3\\-4.3\\-4.3\\-4.3\\-4.3\\-4.3\\-4.3\\-4.3\\-4.3\\-4.3\\-4.3\\-4.3\\ -4.3\\ -4.3\\-4.4\\-4.3\\-4.3\\ -4.4\\-4.3\\-4.3\\-4.3\\
-1.2\\-0.3\\0.1\\0.1\\-1.5\\-1.9\\-2.3\\-2.6\\-2.9\\ -3.2\\-3.4\\-3.7\\-4.0\\-4.3\\-4.3\\-4.3\\-4.3\\-4.3\\-4.3\\-4.3\\ -4.3\\-4.3\\-4.3\\-4.3\\-4.3\\-4.3\\-4.3\\-4.3\\-4.3\\-4.3\\-4.3\\-4.3\\ -4.3\\ -4.3\\-4.3\\-4.4\\-4.3\\ -4.3\\-4.3\\-4.3\\-4.3\\
-1.1\\-0.3\\0.1\\0.1\\-1.5\\-1.9\\-2.3\\-2.6\\-2.9\\ -3.2\\-3.4\\-3.7\\-4.0\\-4.3\\-4.3\\-4.3\\-4.3\\-4.3\\-4.3\\-4.3\\ -4.3\\-4.3\\-4.3\\-4.3\\-4.3\\-4.3\\-4.3\\-4.3\\-4.3\\-4.3\\-4.3\\-4.3\\ -4.3\\ -4.3\\-4.3\\-4.3\\-4.4\\ -4.3\\-4.3\\-4.3\\-4.3\\
-0.9\\-0.3\\0.1\\0.1\\-1.5\\-1.9\\-2.3\\-2.6\\-2.9\\ -3.2\\-3.4\\-3.7\\-4.0\\-4.3\\-4.3\\-4.3\\-4.3\\-4.3\\-4.3\\-4.3\\ -4.3\\-4.3\\-4.3\\-4.3\\-4.3\\-4.3\\-4.3\\-4.3\\-4.3\\-4.3\\-4.3\\-4.3\\ -4.3\\ -4.3\\-4.3\\-4.3\\-4.3\\ -4.4\\-4.3\\-4.3\\-4.3\\
-0.7\\-0.3\\0.1\\0.1\\-1.5\\-1.9\\-2.3\\-2.6\\-2.9\\ -3.2\\-3.4\\-3.7\\-4.0\\-4.3\\-4.3\\-4.3\\-4.3\\-4.3\\-4.3\\-4.3\\ -4.3\\-4.3\\-4.3\\-4.3\\-4.3\\-4.3\\-4.3\\-4.3\\-4.3\\-4.3\\-4.3\\-4.3\\ -4.3\\ -4.3\\-4.3\\-4.3\\-4.3\\ -4.3\\-4.4\\-4.3\\-4.3\\
-0.6\\-0.3\\0.1\\0.1\\-1.5\\-1.9\\-2.3\\-2.6\\-2.9\\ -3.2\\-3.4\\-3.7\\-4.0\\-4.3\\-4.3\\-4.3\\-4.3\\-4.3\\-4.3\\-4.3\\ -4.3\\-4.3\\-4.3\\-4.3\\-4.3\\-4.3\\-4.3\\-4.3\\-4.3\\-4.3\\-4.3\\-4.3\\ -4.3\\ -4.3\\-4.3\\-4.3\\-4.3\\ -4.3\\-4.3\\-4.4\\-4.3\\
-1.1\\-0.5\\-0.2\\-0.2\\-0.6\\-1.0\\-1.4\\-1.8\\-3.2\\ -4.3\\-4.3\\-4.3\\-4.3\\-4.3\\-4.3\\-4.3\\-4.3\\-4.3\\-4.3\\-4.3\\ -4.3\\-4.3\\-4.3\\-4.3\\-4.3\\-4.3\\-4.3\\-4.3\\-4.3\\-4.3\\-4.3\\-4.3\\ -4.3\\ -4.3\\-4.3\\-4.3\\-4.3\\ -4.3\\-4.3\\-4.3\\-4.3\\
-2.4\\-2.6\\-2.8\\-3.0\\-3.2\\-3.4\\-3.7\\-4.0\\-4.3\\ -4.3\\-4.3\\-4.3\\-4.3\\-4.3\\-4.3\\-4.3\\-4.3\\-4.3\\-4.3\\-4.3\\ -4.3\\-4.3\\-4.3\\-4.3\\-4.3\\-4.3\\-4.3\\-4.3\\-4.3\\-4.3\\-4.3\\-4.3\\ -4.3\\ -4.3\\-4.3\\-4.3\\-4.3\\ -4.3\\-4.3\\-4.3\\-4.3\\
}\tabB
\begin{document}
\begin{tikzpicture}[x=1pt,y=1pt]
\path[use as bounding box] (0,0) rectangle (811.25,366.75);
\begin{axis}[panel, anchor=origin, at={(200.34pt,206.8pt)},
 x={(187.175pt,59.075pt)}, y={(-179.375pt,96.25pt)}, z={(0pt,16.858pt)},
 xmin=-0.5,xmax=0.5,xtick={-0.5,0,0.5},xticklabels={-0.5,0,0.5}]
\draw[black,line width=0.4pt] (axis cs:-0.5,0.4,5)--(axis cs:0.5,0.4,5)--(axis cs:0.5,-0.4,5)--(axis cs:0.5,-0.4,-5)--(axis cs:-0.5,-0.4,-5)--(axis cs:-0.5,0.4,-5)--(axis cs:-0.5,0.4,5);
\draw[black,line width=0.4pt] (axis cs:-0.5,0.4,-5)--(axis cs:0.5,0.4,-5)--(axis cs:0.5,-0.4,-5) (axis cs:0.5,0.4,-5)--(axis cs:0.5,0.4,5);
\draw[black,line width=0.4pt] (axis cs:-0.5,0.4,5)--++(-4.6pt,2.5pt) (axis cs:-0.5,0.4,0)--++(-4.6pt,2.5pt) (axis cs:-0.5,0.4,-5)--++(-4.6pt,2.5pt);
\addplot3[surf, shader=faceted, faceted color=black!85, line width=0.35pt, mesh/cols=41, z buffer=reverse x seq]
 table[x index=0,y index=0,z index=0,x expr={-0.5+0.025*mod(\coordindex,41)}, y expr={0.357-0.018333*floor(\coordindex/41)}] {\tabA};
\end{axis}
\begin{axis}[panel, anchor=origin, at={(542.6pt,177.2pt)},
 x={(1.75575pt,0.5825pt)}, y={(-168.44pt,95pt)}, z={(0pt,16.61pt)},
 xmin=0,xmax=100,xtick={0,20,40,60,80,100},xticklabels={0,20,40,60,80,100}]
\draw[black,line width=0.4pt] (axis cs:0,0.4,5)--(axis cs:100,0.4,5)--(axis cs:100,-0.4,5)--(axis cs:100,-0.4,-5)--(axis cs:0,-0.4,-5)--(axis cs:0,0.4,-5)--(axis cs:0,0.4,5);
\draw[black,line width=0.4pt] (axis cs:0,0.4,-5)--(axis cs:100,0.4,-5)--(axis cs:100,-0.4,-5) (axis cs:100,0.4,-5)--(axis cs:100,0.4,5);
\draw[black,line width=0.4pt] (axis cs:0,0.4,5)--++(-4.6pt,2.5pt) (axis cs:0,0.4,0)--++(-4.6pt,2.5pt) (axis cs:0,0.4,-5)--++(-4.6pt,2.5pt);
\addplot3[surf, shader=faceted, faceted color=black!85, line width=0.35pt, mesh/cols=41, z buffer=reverse x seq]
 table[x index=0,y index=0,z index=0,x expr={2.5*mod(\coordindex,41)}, y expr={0.357-0.018333*floor(\coordindex/41)}] {\tabB};
\end{axis}
\node[rotate=90,font=\fontsize{13.7}{14}\selectfont] at (10.2,214.5) {\scalebox{1}[0.84]{PBESS}};
\node[rotate=90,font=\fontsize{13.7}{14}\selectfont] at (452,214) {\scalebox{1}[0.84]{PBESS}};
\node[font=\lab\fontsize{14.5}{15}\selectfont] at (105.8,42) {Δf};
\node[font=\lab\fontsize{14.5}{15}\selectfont] at (275,37.8) {ROCOF};
\node[font=\lab\fontsize{14.5}{15}\selectfont] at (542,43.5) {Δf};
\node[font=\lab\fontsize{14.5}{15}\selectfont] at (693,40) {SOC};
\node[font=\capt\fontsize{17}{17}\selectfont] at (196,11.5) {(\textbf{a})};
\node[font=\capt\fontsize{17}{17}\selectfont] at (627,12) {(\textbf{b})};
\end{tikzpicture}
\end{document}
